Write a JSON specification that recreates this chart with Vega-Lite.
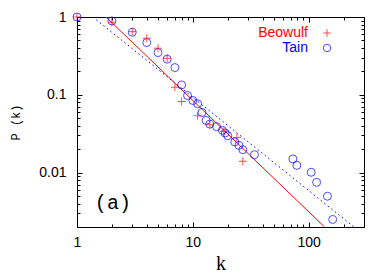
{
  "$schema": "https://vega.github.io/schema/vega-lite/v6.json",
  "width": 287,
  "height": 210,
  "autosize": {"type": "none"},
  "padding": {"left": 77, "top": 17, "right": 26, "bottom": 46},
  "background": "white",
  "config": {
    "view": {"stroke": "black", "strokeWidth": 1},
    "axis": {
      "domain": false,
      "grid": false,
      "ticks": true,
      "tickColor": "#000000",
      "tickWidth": 1,
      "tickOpacity": 1,
      "labelFlush": false,
      "labelOverlap": false,
      "labelFont": "Liberation Sans",
      "labelFontSize": 14,
      "labelColor": "black",
      "titleColor": "black",
      "titleFontWeight": "normal",
      "zindex": 2
    }
  },
  "datasets": {
    "points": [
      {"series": "Tain", "k": 1, "P": 1},
      {"series": "Tain", "k": 2, "P": 0.89},
      {"series": "Tain", "k": 3, "P": 0.637},
      {"series": "Tain", "k": 4, "P": 0.469},
      {"series": "Tain", "k": 5, "P": 0.349},
      {"series": "Tain", "k": 6, "P": 0.287},
      {"series": "Tain", "k": 7, "P": 0.224},
      {"series": "Tain", "k": 8, "P": 0.134},
      {"series": "Tain", "k": 9, "P": 0.098},
      {"series": "Tain", "k": 10, "P": 0.0845},
      {"series": "Tain", "k": 11, "P": 0.0767},
      {"series": "Tain", "k": 12, "P": 0.0593},
      {"series": "Tain", "k": 13, "P": 0.0469},
      {"series": "Tain", "k": 14, "P": 0.042},
      {"series": "Tain", "k": 16, "P": 0.039},
      {"series": "Tain", "k": 18, "P": 0.0349},
      {"series": "Tain", "k": 19, "P": 0.0323},
      {"series": "Tain", "k": 20, "P": 0.0298},
      {"series": "Tain", "k": 23, "P": 0.0248},
      {"series": "Tain", "k": 25, "P": 0.0224},
      {"series": "Tain", "k": 27, "P": 0.0197},
      {"series": "Tain", "k": 34, "P": 0.017},
      {"series": "Tain", "k": 73, "P": 0.015},
      {"series": "Tain", "k": 79, "P": 0.0124},
      {"series": "Tain", "k": 105, "P": 0.0101},
      {"series": "Tain", "k": 117, "P": 0.0075},
      {"series": "Tain", "k": 145, "P": 0.00497},
      {"series": "Tain", "k": 161, "P": 0.0025},
      {"series": "Beowulf", "k": 1, "P": 1},
      {"series": "Beowulf", "k": 2, "P": 0.855},
      {"series": "Beowulf", "k": 3, "P": 0.648},
      {"series": "Beowulf", "k": 4, "P": 0.533},
      {"series": "Beowulf", "k": 5, "P": 0.397},
      {"series": "Beowulf", "k": 6, "P": 0.295},
      {"series": "Beowulf", "k": 7, "P": 0.125},
      {"series": "Beowulf", "k": 8, "P": 0.082},
      {"series": "Beowulf", "k": 11, "P": 0.0538},
      {"series": "Beowulf", "k": 14, "P": 0.0412},
      {"series": "Beowulf", "k": 18.5, "P": 0.0339},
      {"series": "Beowulf", "k": 24, "P": 0.0283},
      {"series": "Beowulf", "k": 27, "P": 0.014}
    ],
    "fits": [
      {"series": "Beowulf", "k": 1.78, "P": 1},
      {"series": "Beowulf", "k": 137, "P": 0.002},
      {"series": "Tain", "k": 1.37, "P": 1},
      {"series": "Tain", "k": 246, "P": 0.002}
    ],
    "panel": [{"label": "(a)"}]
  },
  "layer": [
    {
      "data": {"name": "fits"},
      "transform": [{"filter": "datum.series == 'Beowulf'"}],
      "mark": {"type": "line", "color": "#ff0000", "strokeWidth": 1, "clip": true},
      "encoding": {
        "x": {"field": "k", "type": "quantitative", "scale": {"type": "log", "domain": [1, 300], "nice": false},
          "axis": {"orient": "top", "labels": false, "title": null, "tickSize": 3, "offset": -3, "tickColor": "#000000", "tickWidth": 1,
            "values": [2,3,4,5,6,7,8,9,20,30,40,50,60,70,80,90,200,300]}},
        "y": {"field": "P", "type": "quantitative", "scale": {"type": "log", "domain": [0.002, 1], "nice": false},
          "axis": {"orient": "right", "labels": false, "title": null, "tickSize": 3, "offset": -3, "tickColor": "#000000", "tickWidth": 1,
            "values": [0.002,0.003,0.004,0.005,0.006,0.007,0.008,0.009,0.02,0.03,0.04,0.05,0.06,0.07,0.08,0.09,0.2,0.3,0.4,0.5,0.6,0.7,0.8,0.9]}}
      }
    },
    {
      "data": {"name": "fits"},
      "transform": [{"filter": "datum.series == 'Tain'"}],
      "mark": {"type": "line", "color": "#0000ff", "strokeWidth": 1, "strokeDash": [1.5, 3], "clip": true},
      "encoding": {
        "x": {"field": "k", "type": "quantitative", "scale": {"type": "log", "domain": [1, 300], "nice": false},
          "axis": {"orient": "top", "labels": false, "title": null, "tickSize": 5, "offset": -5, "tickColor": "#000000", "tickWidth": 1, "values": [1, 10, 100]}},
        "y": {"field": "P", "type": "quantitative", "scale": {"type": "log", "domain": [0.002, 1], "nice": false},
          "axis": {"orient": "right", "labels": false, "title": null, "tickSize": 5, "offset": -5, "tickColor": "#000000", "tickWidth": 1, "values": [0.01, 0.1, 1]}}
      }
    },
    {
      "data": {"name": "points"},
      "mark": {"type": "point", "filled": false, "strokeWidth": 1, "size": 64, "clip": false},
      "encoding": {
        "x": {"field": "k", "type": "quantitative", "scale": {"type": "log", "domain": [1, 300], "nice": false},
          "axis": {"orient": "bottom", "title": "k", "titleFont": "Liberation Serif", "titleFontSize": 20, "titlePadding": 4,
            "labelPadding": 8, "tickSize": 5, "offset": -5, "tickColor": "#000000", "tickWidth": 1,
            "values": [1, 10, 100],
            "labelExpr": "datum.value == 1 ? '1' : datum.value == 10 ? '10' : '100'"}},
        "y": {"field": "P", "type": "quantitative", "scale": {"type": "log", "domain": [0.002, 1], "nice": false},
          "axis": {"orient": "left", "title": "P (k)", "titleFont": "Liberation Mono", "titleFontSize": 12, "titlePadding": 16,
            "labelPadding": 11, "tickSize": 5, "offset": -5, "tickColor": "#000000", "tickWidth": 1,
            "values": [0.01, 0.1, 1],
            "labelExpr": "datum.value == 1 ? '1' : datum.value == 0.1 ? '0.1' : '0.01'"}},
        "color": {"field": "series", "type": "nominal",
          "scale": {"domain": ["Beowulf", "Tain"], "range": ["#ff0000", "#0000ff"]},
          "legend": {"orient": "none", "legendX": 243, "legendY": 9, "title": null, "padding": 0,
            "labelFont": "Liberation Sans", "labelFontSize": 14, "labelAlign": "right", "labelOffset": -26,
            "labelColor": {"expr": "datum.value == 'Beowulf' ? '#ff0000' : '#0000ff'"},
            "rowPadding": 1, "symbolSize": 56, "symbolStrokeWidth": 1}},
        "shape": {"field": "series", "type": "nominal",
          "scale": {"domain": ["Beowulf", "Tain"], "range": ["M-1,0L1,0M0,-1L0,1", "circle"]}}
      }
    },
    {
      "data": {"name": "panel"},
      "mark": {"type": "text", "font": "Liberation Mono", "fontSize": 20, "align": "center", "baseline": "middle", "color": "black"},
      "encoding": {
        "text": {"field": "label", "type": "nominal"},
        "x": {"datum": 2.04, "type": "quantitative", "scale": {"type": "log", "domain": [1, 300], "nice": false},
          "axis": {"orient": "bottom", "labels": false, "title": null, "tickSize": 3, "offset": -3, "tickColor": "#000000", "tickWidth": 1,
            "values": [2,3,4,5,6,7,8,9,20,30,40,50,60,70,80,90,200,300]}},
        "y": {"datum": 0.0041, "type": "quantitative", "scale": {"type": "log", "domain": [0.002, 1], "nice": false},
          "axis": {"orient": "left", "labels": false, "title": null, "tickSize": 3, "offset": -3, "tickColor": "#000000", "tickWidth": 1,
            "values": [0.002,0.003,0.004,0.005,0.006,0.007,0.008,0.009,0.02,0.03,0.04,0.05,0.06,0.07,0.08,0.09,0.2,0.3,0.4,0.5,0.6,0.7,0.8,0.9]}}
      }
    }
  ],
  "resolve": {"axis": {"x": "independent", "y": "independent"}}
}
